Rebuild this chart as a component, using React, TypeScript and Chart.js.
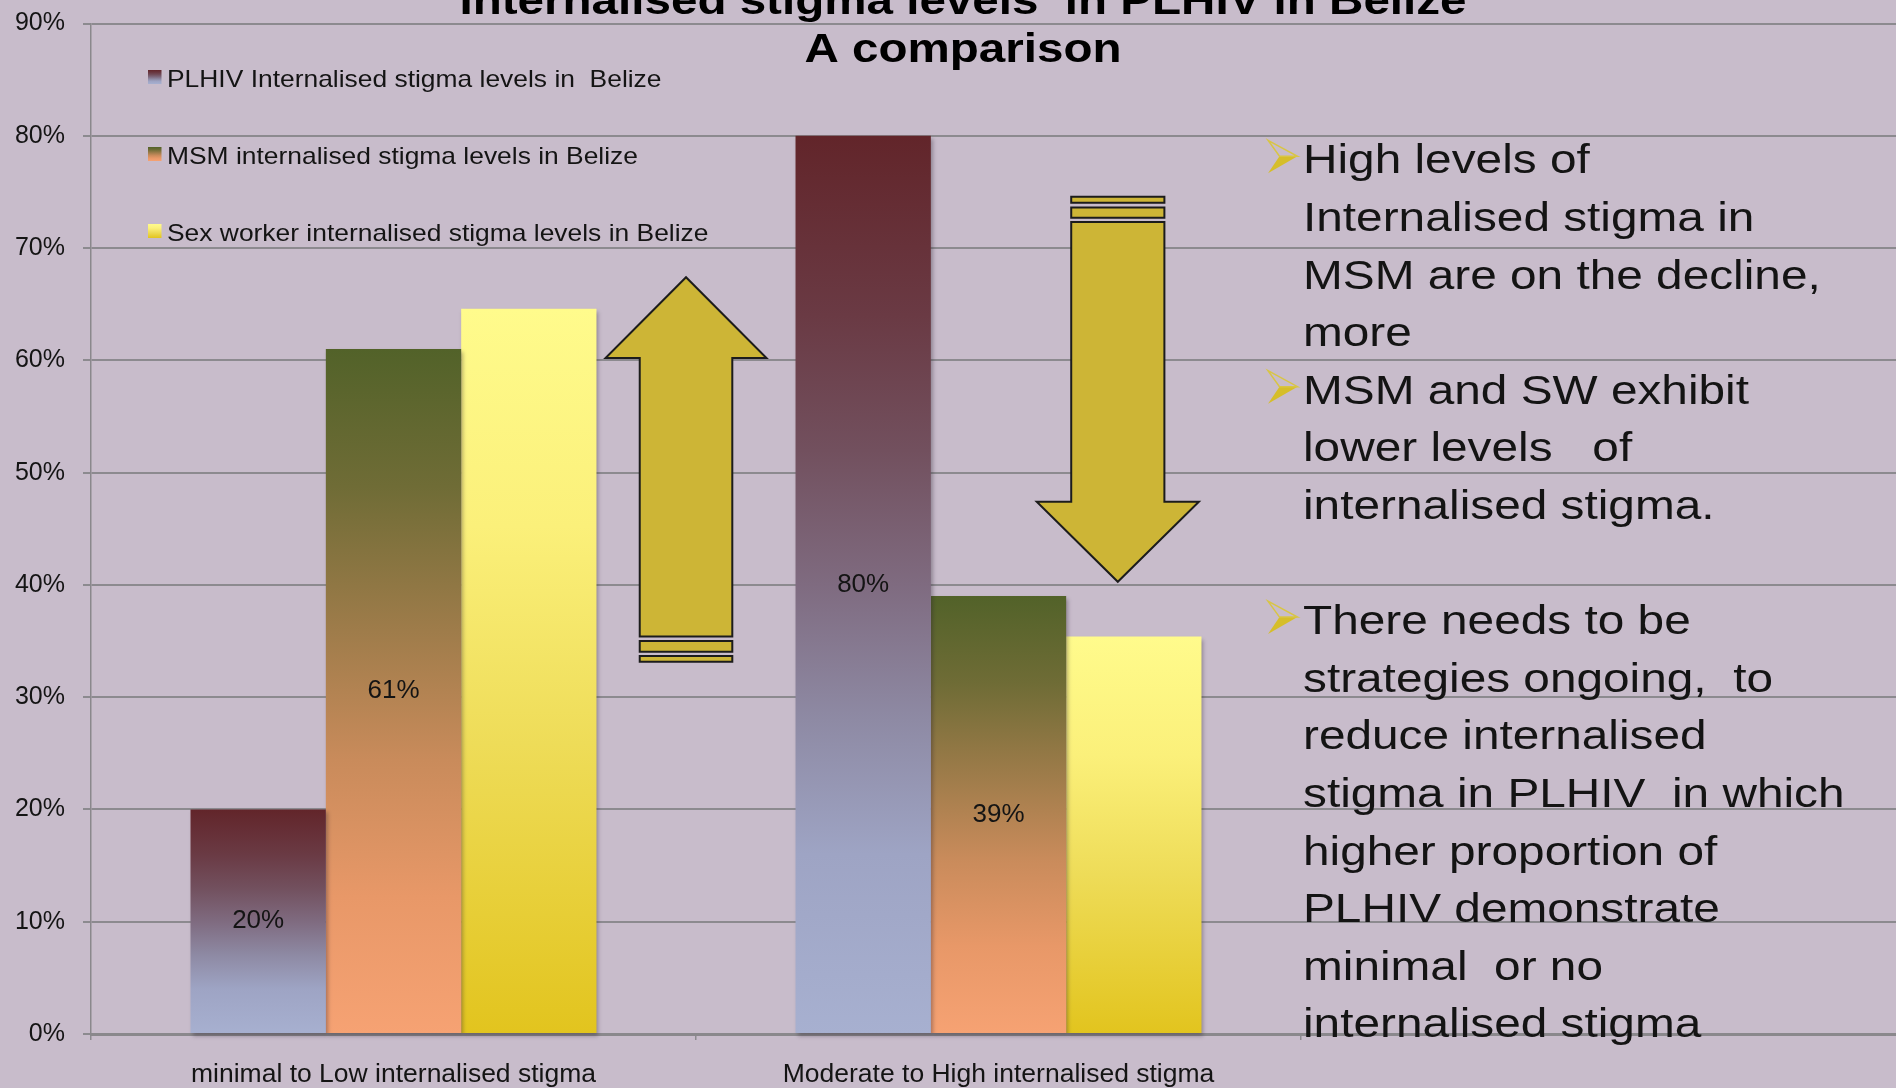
import React, { useEffect, useRef } from 'react';
import { Chart, registerables } from 'chart.js';

Chart.register(...registerables);

// ---------- data ----------
const categories = ['minimal to Low internalised stigma', 'Moderate to High internalised stigma'];
const seriesNames = [
  'PLHIV Internalised stigma levels in  Belize',
  'MSM internalised stigma levels in Belize',
  'Sex worker internalised stigma levels in Belize',
];
const plhivValues = [20, 80];
const msmValues = [61, 39];
const swValues = [64.6, 35.4];
const showValueLabels = [true, true, false];
const yAxisMin = 0;
const yAxisMax = 90;
const yAxisStep = 10;
const titleLines = ['Internalised stigma levels  in PLHIV in Belize', 'A comparison'];
// right-hand commentary, one entry per text line ('' = blank line), bullet flag
const noteLines: [string, boolean][] = [
  ['High levels of', true],
  ['Internalised stigma in', false],
  ['MSM are on the decline,', false],
  ['more', false],
  ['MSM and SW exhibit', true],
  ['lower levels   of', false],
  ['internalised stigma.', false],
  ['', false],
  ['There needs to be', true],
  ['strategies ongoing,  to', false],
  ['reduce internalised', false],
  ['stigma in PLHIV  in which', false],
  ['higher proportion of', false],
  ['PLHIV demonstrate', false],
  ['minimal  or no', false],
  ['internalised stigma', false],
];
// decorative block arrows, in axis units (x: category index, y: percent)
const upArrow = { cx: 0.4835, shaftW: 0.153, headW: 0.266, tip: 67.4, headBase: 60.2, tail: 35.4, stripes: [[35.0, 34.05], [33.66, 33.15]] };
const downArrow = { cx: 1.1972, shaftW: 0.154, headW: 0.268, tip: 40.28, headBase: 47.4, tail: 72.31, stripes: [[74.56, 74.03], [73.62, 72.69]] };

// ---------- styles ----------
const W = 1896;
const H = 1088;
const BG = '#c8bccb';
const GRID = '#8c8a8f';
const AXIS = '#8a888c';
const FONT = '"Liberation Sans", Arial, Helvetica, sans-serif';
const TEXT = '#141414';

const plhivStops: [number, string][] = [
  [0, '#62252a'], [0.2, '#6a3a44'], [0.35, '#72505e'], [0.5, '#7f6b80'],
  [0.65, '#8e8aa4'], [0.8, '#9ea4c4'], [1, '#a7b0d0'],
];
const msmStops: [number, string][] = [
  [0, '#526229'], [0.2, '#6f6c36'], [0.4, '#9c7b49'], [0.6, '#c98b5b'], [0.8, '#e89868'], [1, '#f6a273'],
];
const swStops: [number, string][] = [
  [0, '#fffb8c'], [0.3, '#fbf07a'], [0.6, '#eedc58'], [1, '#e2c41e'],
];
const allStops = [plhivStops, msmStops, swStops];

function barGradient(stops: [number, string][]) {
  return (c: any) => {
    const chart = c.chart;
    const { chartArea, scales } = chart;
    if (!chartArea || c.type !== 'data' || c.raw == null) return stops[stops.length - 1][1];
    const top = scales.y.getPixelForValue(c.raw);
    const bottom = scales.y.getPixelForValue(0);
    const g = chart.ctx.createLinearGradient(0, top, 0, bottom);
    stops.forEach(([o, col]) => g.addColorStop(o, col));
    return g;
  };
}

function alignPixel(p: number, w: number) {
  const half = w / 2;
  return Math.round(p - half) + half;
}

function drawStretched(ctx: CanvasRenderingContext2D, text: string, x: number, y: number, sx: number) {
  ctx.save();
  ctx.translate(x, y);
  ctx.scale(sx, 1);
  ctx.fillText(text, 0, 0);
  ctx.restore();
}

const decorPlugin = {
  id: 'decor',
  beforeDatasetsDraw(chart: any) {
    const { ctx, chartArea, scales } = chart;
    const y = scales.y;
    ctx.save();
    // extend horizontal gridlines across the whole slide
    ctx.strokeStyle = GRID;
    ctx.lineWidth = 2;
    y.ticks.forEach((t: any) => {
      const py = alignPixel(y.getPixelForValue(t.value), 2);
      ctx.beginPath();
      ctx.moveTo(chartArea.right, py);
      ctx.lineTo(chart.width, py);
      ctx.stroke();
    });
    ctx.strokeStyle = AXIS;
    ctx.lineWidth = 3;
    const by = alignPixel(chartArea.bottom, 3);
    ctx.beginPath();
    ctx.moveTo(chartArea.right, by);
    ctx.lineTo(chart.width, by);
    ctx.stroke();
    ctx.restore();
    // bar shadow
    ctx.save();
    ctx.shadowColor = 'rgba(40,30,45,0.35)';
    ctx.shadowBlur = 4;
    ctx.shadowOffsetX = 2;
    ctx.shadowOffsetY = 3;
  },
  afterDatasetsDraw(chart: any) {
    const { ctx, scales } = chart;
    ctx.restore();
    const x = scales.x;
    const y = scales.y;
    // value labels
    ctx.save();
    ctx.font = `26px ${FONT}`;
    ctx.fillStyle = TEXT;
    ctx.textAlign = 'center';
    ctx.textBaseline = 'middle';
    chart.data.datasets.forEach((ds: any, di: number) => {
      if (!showValueLabels[di]) return;
      const meta = chart.getDatasetMeta(di);
      meta.data.forEach((el: any, i: number) => {
        const v = ds.data[i];
        if (v == null) return;
        ctx.fillText(`${v}%`, el.x, (el.y + el.base) / 2);
      });
    });
    ctx.restore();
    // block arrows
    const x0 = x.getPixelForValue(0);
    const cw = x.getPixelForValue(1) - x0;
    const px = (v: number) => x0 + v * cw;
    const drawArrow = (a: any) => {
      const c = px(a.cx);
      const sl = c - (a.shaftW * cw) / 2;
      const sr = c + (a.shaftW * cw) / 2;
      const hl = c - (a.headW * cw) / 2;
      const hr = c + (a.headW * cw) / 2;
      const yt = y.getPixelForValue(a.tail);
      const yb = y.getPixelForValue(a.headBase);
      const yp = y.getPixelForValue(a.tip);
      ctx.save();
      ctx.fillStyle = '#cdb536';
      ctx.strokeStyle = '#1c1c1c';
      ctx.lineWidth = 2;
      ctx.lineJoin = 'miter';
      ctx.beginPath();
      ctx.moveTo(sl, yt);
      ctx.lineTo(sl, yb);
      ctx.lineTo(hl, yb);
      ctx.lineTo(c, yp);
      ctx.lineTo(hr, yb);
      ctx.lineTo(sr, yb);
      ctx.lineTo(sr, yt);
      ctx.closePath();
      ctx.fill();
      ctx.stroke();
      a.stripes.forEach(([v1, v2]: number[]) => {
        const p1 = y.getPixelForValue(v1);
        const p2 = y.getPixelForValue(v2);
        ctx.beginPath();
        ctx.rect(sl, Math.min(p1, p2), sr - sl, Math.abs(p2 - p1));
        ctx.fill();
        ctx.stroke();
      });
      ctx.restore();
    };
    drawArrow(upArrow);
    drawArrow(downArrow);
  },
  afterDraw(chart: any) {
    const { ctx, chartArea } = chart;
    ctx.save();
    // title
    ctx.fillStyle = '#000';
    ctx.font = `bold 41px ${FONT}`;
    ctx.textAlign = 'center';
    ctx.textBaseline = 'alphabetic';
    drawStretched(ctx, titleLines[0], 963, 14, 1.16);
    drawStretched(ctx, titleLines[1], 963, 62, 1.16);
    // legend
    ctx.textAlign = 'left';
    ctx.font = `24px ${FONT}`;
    seriesNames.forEach((name, i) => {
      const base = 87 + i * 77;
      const top = base - 17;
      const g = ctx.createLinearGradient(0, top, 0, top + 14);
      allStops[i].forEach(([o, col]) => g.addColorStop(o, col));
      ctx.fillStyle = g;
      ctx.fillRect(148, top, 13.5, 14);
      ctx.fillStyle = TEXT;
      drawStretched(ctx, name, 167, base, 1.1);
    });
    // commentary
    ctx.font = `41px ${FONT}`;
    const tx = chartArea.right + 2;
    noteLines.forEach(([line, bullet], i) => {
      const base = 173.3 + i * 57.6;
      if (bullet) {
        const lx = tx - 35;
        const rx = tx - 5.5;
        const nx = tx - 23.5;
        const my = base - 17;
        ctx.fillStyle = '#d6be2a';
        ctx.beginPath();
        ctx.moveTo(nx, my);
        ctx.lineTo(rx, my);
        ctx.lineTo(lx, base);
        ctx.closePath();
        ctx.fill();
        ctx.strokeStyle = '#d8c545';
        ctx.lineWidth = 1.5;
        ctx.beginPath();
        ctx.moveTo(lx, base - 33);
        ctx.lineTo(rx, my);
        ctx.lineTo(nx, my);
        ctx.closePath();
        ctx.stroke();
      }
      if (line) {
        ctx.fillStyle = TEXT;
        drawStretched(ctx, line, tx, base, 1.165);
      }
    });
    ctx.restore();
  },
};

export default function App() {
  const ref = useRef<HTMLCanvasElement>(null);
  useEffect(() => {
    const canvas = ref.current as HTMLCanvasElement;
    const chart = new Chart(canvas, {
      type: 'bar',
      data: {
        labels: categories,
        datasets: [
          { label: seriesNames[0], data: plhivValues, backgroundColor: barGradient(plhivStops), borderWidth: 0, clip: false } as any,
          { label: seriesNames[1], data: msmValues, backgroundColor: barGradient(msmStops), borderWidth: 0, clip: false } as any,
          { label: seriesNames[2], data: swValues, backgroundColor: barGradient(swStops), borderWidth: 0, clip: false } as any,
        ],
      },
      options: {
        responsive: false,
        animation: false,
        devicePixelRatio: 1,
        layout: { padding: { top: 23.5, right: W - 1301, bottom: 0, left: 0 } },
        datasets: { bar: { categoryPercentage: 0.671, barPercentage: 1 } },
        plugins: {
          legend: { display: false },
          tooltip: { enabled: false },
          title: { display: false },
        },
        scales: {
          x: {
            grid: { display: true, drawOnChartArea: false, drawTicks: true, tickLength: 6, color: GRID, lineWidth: 1.5, offset: true },
            border: { display: true, color: AXIS, width: 3 },
            ticks: { font: { family: FONT, size: 26.5 }, color: TEXT, padding: 19, maxRotation: 0, autoSkip: false },
            afterFit: (s: any) => { s.height = 54; s.paddingLeft = 0; s.paddingRight = 0; },
          },
          y: {
            min: yAxisMin,
            max: yAxisMax,
            ticks: { stepSize: yAxisStep, callback: (v: any) => `${v}%`, font: { family: FONT, size: 25 }, color: TEXT, padding: 18 },
            grid: { color: GRID, lineWidth: 2, tickLength: 8 },
            border: { display: true, color: AXIS, width: 1.5 },
            afterFit: (s: any) => { s.width = 91; s.paddingTop = 0; s.paddingBottom = 0; },
          },
        },
      } as any,
      plugins: [decorPlugin],
    });
    return () => chart.destroy();
  }, []);

  return (
    <div style={{ position: 'fixed', left: 0, top: 0, width: W, height: H, overflow: 'hidden', background: BG }}>
      <canvas ref={ref} width={W} height={H} style={{ width: W, height: H, display: 'block' }} />
    </div>
  );
}
